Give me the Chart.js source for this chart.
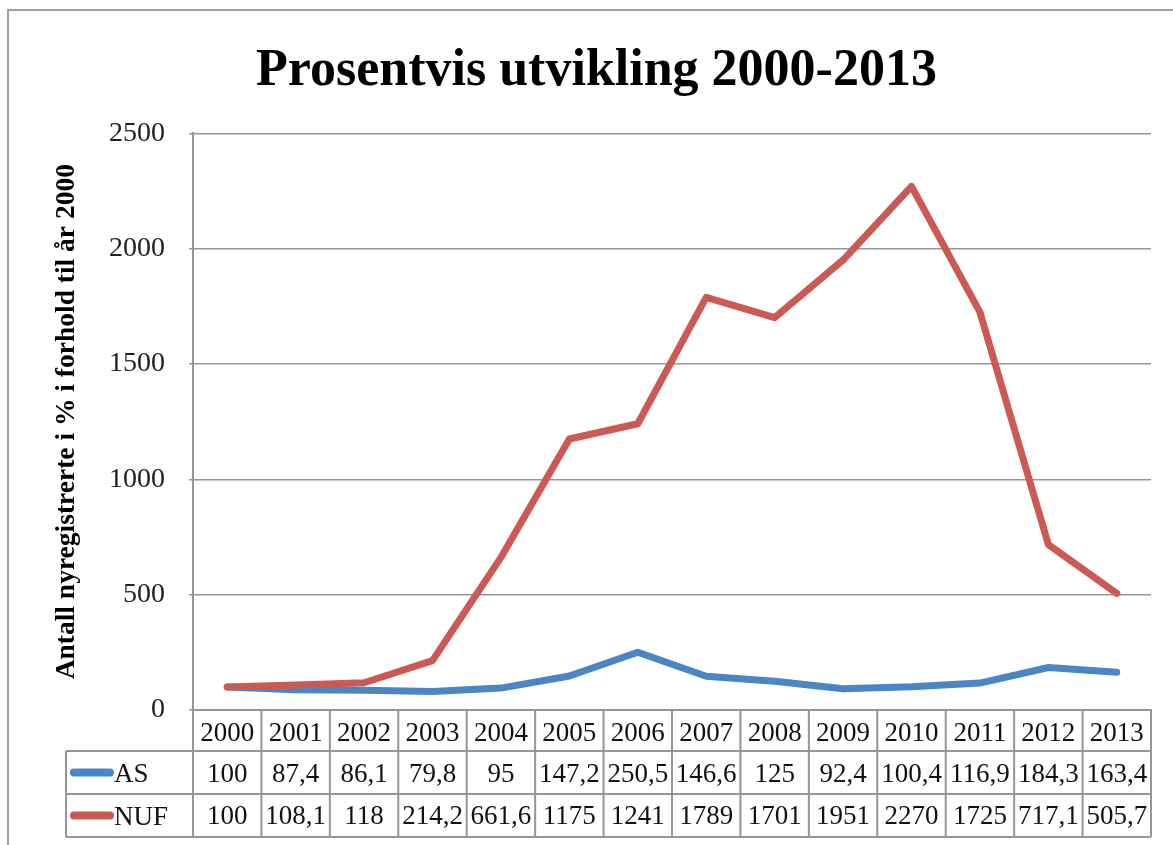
<!DOCTYPE html>
<html>
<head>
<meta charset="utf-8">
<script src="https://cdn.jsdelivr.net/npm/chart.js@4/dist/chart.umd.min.js"></script>
<style>
  html, body { margin: 0; padding: 0; background: #fff; }
  #wrap { width: 1173px; height: 845px; }
</style>
</head>
<body>
<div id="wrap"><canvas id="chart" width="1173" height="845"></canvas></div>
<script>
const years = ['2000','2001','2002','2003','2004','2005','2006','2007','2008','2009','2010','2011','2012','2013'];
const asValues = [100, 87.4, 86.1, 79.8, 95, 147.2, 250.5, 146.6, 125, 92.4, 100.4, 116.9, 184.3, 163.4];
const nufValues = [100, 108.1, 118, 214.2, 661.6, 1175, 1241, 1789, 1701, 1951, 2270, 1725, 717.1, 505.7];
const yTicks = [0, 500, 1000, 1500, 2000, 2500];

const BLUE = '#4a86c5';
const RED = '#cb5a52';
const GRID = '#969696';
const FONT = '"Liberation Serif", "DejaVu Serif", serif';

const fmt = v => String(v).replace('.', ',');

// frame + white background
const framePlugin = {
  id: 'frame',
  beforeDraw(chart) {
    const ctx = chart.ctx;
    ctx.save();
    ctx.fillStyle = '#fff';
    ctx.fillRect(0, 0, chart.width, chart.height);
    ctx.strokeStyle = '#a0a0a0';
    ctx.lineWidth = 2;
    ctx.beginPath();
    ctx.moveTo(8, chart.height);
    ctx.lineTo(8, 10);
    ctx.lineTo(chart.width, 10);
    ctx.stroke();
    ctx.restore();
  }
};

// data table under the x axis
const tablePlugin = {
  id: 'dataTable',
  afterDraw(chart) {
    const ctx = chart.ctx;
    const x = chart.scales.x;
    const top = chart.chartArea.bottom;
    const w = x.getPixelForValue(1) - x.getPixelForValue(0);
    const left = x.getPixelForValue(0) - w / 2;
    const right = x.getPixelForValue(years.length - 1) + w / 2;
    const legLeft = 66;
    const h0 = top + 41, h1 = h0 + 43, h2 = h1 + 43;

    ctx.save();
    ctx.strokeStyle = GRID;
    ctx.lineWidth = 2;
    ctx.beginPath();
    ctx.moveTo(legLeft, h0); ctx.lineTo(right, h0);
    ctx.moveTo(legLeft, h1); ctx.lineTo(right, h1);
    ctx.moveTo(legLeft, h2); ctx.lineTo(right, h2);
    for (let i = 0; i <= years.length; i++) {
      const px = left + i * w;
      ctx.moveTo(px, top); ctx.lineTo(px, h2);
    }
    ctx.moveTo(legLeft, h0); ctx.lineTo(legLeft, h2);
    ctx.stroke();

    ctx.fillStyle = '#111';
    ctx.font = '27px ' + FONT;
    ctx.textAlign = 'center';
    ctx.textBaseline = 'middle';
    years.forEach((y, i) => {
      const cx = x.getPixelForValue(i);
      ctx.fillText(y, cx, (top + h0) / 2 + 3);
      ctx.fillText(fmt(asValues[i]), cx, (h0 + h1) / 2 + 2);
      ctx.fillText(fmt(nufValues[i]), cx, (h1 + h2) / 2 + 1);
    });

    // legend keys
    [[BLUE, 'AS', (h0 + h1) / 2], [RED, 'NUF', (h1 + h2) / 2]].forEach(([c, name, cy]) => {
      ctx.strokeStyle = c;
      ctx.lineWidth = 8;
      ctx.lineCap = 'round';
      ctx.beginPath();
      ctx.moveTo(74, cy); ctx.lineTo(110, cy);
      ctx.stroke();
      ctx.textAlign = 'left';
      ctx.fillText(name, 114, cy + 2);
    });
    ctx.restore();
  }
};

new Chart(document.getElementById('chart'), {
  type: 'line',
  data: {
    labels: years,
    datasets: [
      {
        label: 'AS',
        data: asValues,
        borderColor: BLUE,
        borderWidth: 7,
        pointRadius: 0,
        tension: 0,
        borderCapStyle: 'round',
        borderJoinStyle: 'round',
        order: 2
      },
      {
        label: 'NUF',
        data: nufValues,
        borderColor: RED,
        borderWidth: 7,
        pointRadius: 0,
        tension: 0,
        borderCapStyle: 'round',
        borderJoinStyle: 'round',
        order: 1
      }
    ]
  },
  options: {
    responsive: false,
    animation: false,
    layout: { padding: { left: 42, right: 22, top: 0, bottom: 0 } },
    plugins: {
      legend: { display: false },
      tooltip: { enabled: false },
      title: {
        display: true,
        text: 'Prosentvis utvikling 2000-2013',
        color: '#000',
        font: { family: FONT, size: 52, weight: 'bold', lineHeight: 1.2 },
        padding: { top: 40, bottom: 31 }
      }
    },
    scales: {
      x: {
        type: 'category',
        offset: true,
        grid: { display: false },
        ticks: { display: false },
        border: { display: true, color: GRID, width: 2 },
        afterFit(scale) { scale.height = 135; }
      },
      y: {
        min: 0,
        max: 2500,
        afterBuildTicks(scale) { scale.ticks = yTicks.map(v => ({ value: v })); },
        grid: { color: GRID, lineWidth: 1.5, tickLength: 4 },
        border: { display: true, color: GRID, width: 2 },
        ticks: {
          color: '#222',
          padding: 24,
          font: { family: FONT, size: 28 },
          callback: v => String(v)
        },
        title: {
          display: true,
          text: 'Antall nyregistrerte i % i forhold til år 2000',
          color: '#000',
          font: { family: FONT, size: 27.5, weight: 'bold', lineHeight: 1.2 },
          padding: { top: 8, bottom: 0 }
        },
        afterFit(scale) { scale.width = 151; }
      }
    }
  },
  plugins: [framePlugin, tablePlugin]
});
</script>
</body>
</html>
